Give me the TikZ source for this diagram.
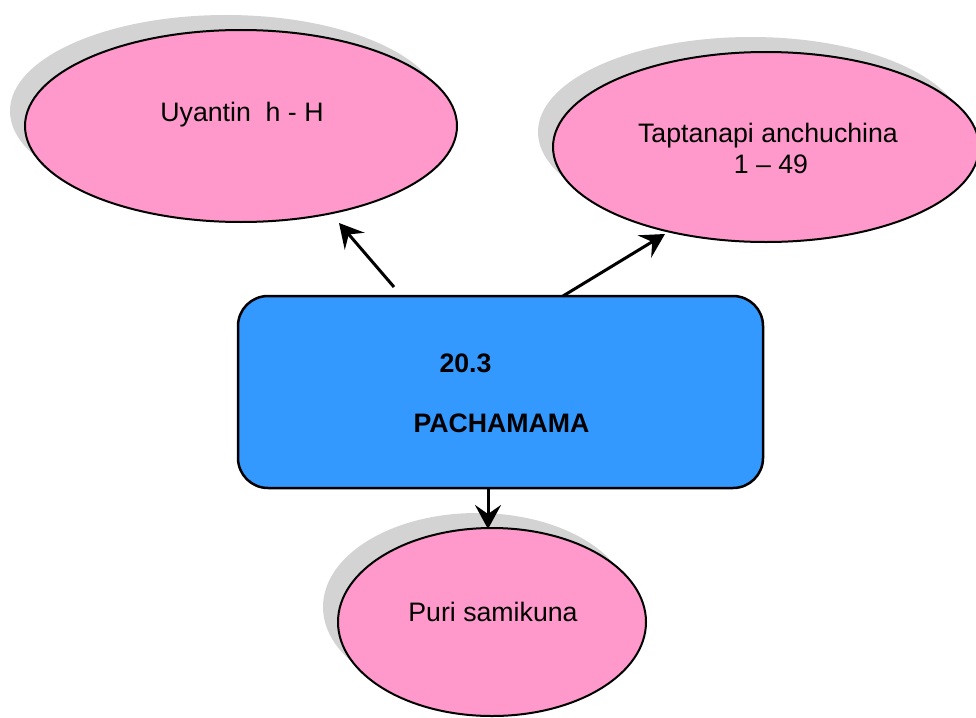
\documentclass[tikz,border=0pt]{standalone}
\usepackage{fontspec}
\setmainfont{Liberation Sans}
\usetikzlibrary{shapes.geometric,shadows,arrows.meta}
\definecolor{pinkfill}{RGB}{255,153,204}
\definecolor{bluefill}{RGB}{51,153,255}
\definecolor{shgray}{RGB}{211,211,211}
\tikzset{
  bubble/.style={ellipse, draw=black, line width=2pt, fill=pinkfill, inner sep=0pt,
    general shadow={shadow xshift=-15pt, shadow yshift=15pt, fill=shgray}},
  mainbox/.style={rectangle, draw=black, line width=2.5pt, fill=bluefill, rounded corners=30pt,
    minimum width=525pt, minimum height=192pt, inner sep=0pt},
  lbl/.style={inner sep=0pt, font=\fontsize{26.7}{31}\selectfont, anchor=base},
  blbl/.style={lbl, font=\fontsize{26.7}{31}\selectfont\bfseries},
  conn/.style={line width=3pt, -{Stealth[length=24pt, width=26pt, inset=9pt]}}
}
\begin{document}
\begin{tikzpicture}[x=1pt, y=-1pt]
\useasboundingbox (0,0) rectangle (976,717);
% ellipses
\node[bubble, minimum width=432pt, minimum height=192pt] (e1) at (241,126) {};
\node[bubble, minimum width=426pt, minimum height=190pt] (e2) at (766,147) {};
\node[bubble, minimum width=308pt, minimum height=188pt] (e3) at (492,622) {};
% central box
\node[mainbox] (box) at (500.5,392) {};
% texts
\node[lbl] (t1) at (242,121) {Uyantin \ h - H};
\node[lbl] (t2a) at (768,142) {Taptanapi anchuchina};
\node[lbl] (t2b) at (771,173) {1 – 49};
\node[lbl] (t3) at (493,621) {Puri samikuna};
\node[blbl] (b1) at (465.5,372) {20.3};
\node[blbl] (b2) at (501.5,432) {PACHAMAMA};
% connector ends
\coordinate (a1s) at (394,287);
\coordinate (a1e) at (339,223);
\coordinate (a2s) at (563,296);
\coordinate (a2e) at (665,234);
\coordinate (a3s) at (488,488);
\coordinate (a3e) at (488,529);
\draw[conn] (a1s) -- (a1e);
\draw[conn] (a2s) -- (a2e);
\draw[conn] (a3s) -- (a3e);
\end{tikzpicture}
\end{document}
